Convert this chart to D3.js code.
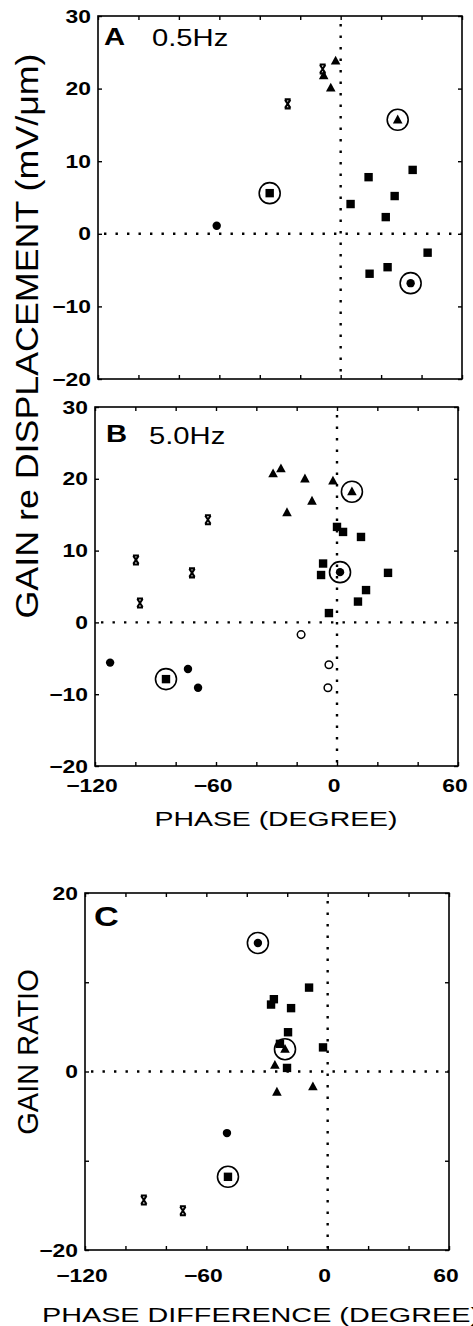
<!DOCTYPE html>
<html><head><meta charset="utf-8">
<script src="https://cdn.jsdelivr.net/npm/d3@7"></script>
<style>body{margin:0;background:#fff}svg{display:block}</style>
</head><body>
<script>
// ---------- data ----------
const xTicks = [-120,-100,-80,-60,-40,-20,0,20,40,60];
const xTickLabels = [-120,-60,0,60];
const yTicksAB = [-20,-10,0,10,20,30];
const yTicksC = [-20,-10,0,10,20];
const yTickLabelsC = [-20,0,20];

// Panel A (0.5 Hz): [phase, gain]
const aSquares   = [[35.6,8.8],[13.8,7.8],[26.7,5.2],[4.9,4.1],[22.3,2.3],[43.0,-2.6],[23.2,-4.6],[14.3,-5.5]];
const aTriangles = [[-2.5,23.8],[-8.4,21.8],[-4.9,20.1]];
const aCrosses   = [[-8.9,22.7],[-26.2,17.9]];
const aCircles   = [[-61.3,1.1]];
const aOpen      = [];
const aRinged    = [[28.2,15.7,"triangle"],[-35.1,5.6,"square"],[34.6,-6.8,"circle"]];

// Panel B (5.0 Hz)
const bSquares   = [[0,13.3],[3.0,12.6],[11.9,11.9],[-6.9,8.2],[-7.9,6.6],[25.3,6.9],[14.4,4.5],[10.4,2.9],[-4.0,1.3]];
const bTriangles = [[-31.7,20.7],[-27.8,21.4],[-15.9,20.0],[-2.0,19.7],[-12.4,16.9],[-24.8,15.3]];
const bCrosses   = [[-64,14.3],[-99.7,8.7],[-71.9,6.9],[-97.7,2.7]];
const bCircles   = [[-112.5,-5.6],[-73.9,-6.5],[-68.9,-9.1]];
const bOpen      = [[-17.8,-1.7],[-4.0,-5.9],[-4.5,-9.1]];
const bRinged    = [[7.4,18.2,"triangle"],[1.5,7.0,"circle"],[-84.8,-7.9,"square"]];

// Panel C (gain ratio vs phase difference)
const cSquares   = [[-9.2,9.4],[-26.6,8.1],[-28.0,7.5],[-18.1,7.1],[-19.6,4.4],[-23.6,3.1],[-2.3,2.7],[-20.1,0.4]];
const cTriangles = [[-26.1,0.7],[-25.1,-2.3],[-7.3,-1.7]];
const cCrosses   = [[-90.9,-14.4],[-71.6,-15.6]];
const cCircles   = [[-49.8,-6.9]];
const cOpen      = [];
const cRinged    = [[-34.5,14.4,"circle"],[-21.1,2.5,"triangle"],[-49.3,-11.8,"square"]];

const W = 473, H = 1326, SX = 1.27;
const svg = d3.select("body").append("svg").attr("width", W).attr("height", H)
  .style("font-family", "'Liberation Sans', Arial, sans-serif");

const panels = [
  {x0:98, x1:462, y0:16, y1:379, ydom:[-20,30], yt:yTicksAB, ylab:yTicksAB,
   letter:"A", sub:"0.5Hz", lx:104, ly:45, sx:152, sy:46, lsize:23,
   sq:aSquares, tri:aTriangles, cr:aCrosses, ci:aCircles, op:aOpen, ring:aRinged, xlab:false},
  {x0:95, x1:458, y0:407, y1:766, ydom:[-20,30], yt:yTicksAB, ylab:yTicksAB,
   letter:"B", sub:"5.0Hz", lx:106, ly:442, sx:149, sy:444, lsize:23,
   sq:bSquares, tri:bTriangles, cr:bCrosses, ci:bCircles, op:bOpen, ring:bRinged, xlab:true, xly:792},
  {x0:85, x1:449, y0:893, y1:1250, ydom:[-20,20], yt:yTicksC, ylab:yTickLabelsC,
   letter:"C", sub:"", lx:94, ly:926, lsize:27,
   sq:cSquares, tri:cTriangles, cr:cCrosses, ci:cCircles, op:cOpen, ring:cRinged, xlab:true, xly:1282}
];

const fmt = v => (v < 0 ? "\u2212" + Math.abs(v) : "" + v);

function marker(g, type, px, py) {
  if (type === "square") {
    g.append("rect").attr("x", px-4.2).attr("y", py-4.2).attr("width", 8.4).attr("height", 8.4).attr("fill", "#000");
  } else if (type === "triangle") {
    g.append("path").attr("d", `M${px},${py-5.2}L${px+4.8},${py+3.6}L${px-4.8},${py+3.6}Z`).attr("fill", "#000");
  } else if (type === "circle") {
    g.append("circle").attr("cx", px).attr("cy", py).attr("r", 4.2).attr("fill", "#000");
  } else if (type === "open") {
    g.append("circle").attr("cx", px).attr("cy", py).attr("r", 3.8).attr("fill", "#fff").attr("stroke", "#000").attr("stroke-width", 1.5);
  } else if (type === "cross") {
    g.append("path").attr("d",
      `M${px-3},${py-4.5}H${px+3}M${px-3},${py+4.5}H${px+3}M${px-2.6},${py-4}L${px+2.6},${py+4}M${px+2.6},${py-4}L${px-2.6},${py+4}`)
      .attr("stroke", "#000").attr("stroke-width", 2.1).attr("fill", "none");
  }
}

panels.forEach(p => {
  const x = d3.scaleLinear().domain([-120, 60]).range([p.x0, p.x1]);
  const y = d3.scaleLinear().domain(p.ydom).range([p.y1, p.y0]);
  const g = svg.append("g");

  // dotted zero lines
  const dots = {stroke:"#000", "stroke-width":2.4, "stroke-dasharray":"2.4 9.1"};
  const hl = g.append("line").attr("x1", x(-120)+6).attr("x2", x(60)).attr("y1", y(0)).attr("y2", y(0));
  const vl = g.append("line").attr("x1", x(0)).attr("x2", x(0)).attr("y1", y(p.ydom[1])+8).attr("y2", y(p.ydom[0]));
  [hl, vl].forEach(l => Object.entries(dots).forEach(([k, v]) => l.attr(k, v)));

  // axes with inward ticks
  const axStyle = a => { a.select(".domain").remove(); a.selectAll("line").attr("stroke", "#000").attr("stroke-width", 1.4); a.selectAll("text").remove(); };
  g.append("g").attr("transform", `translate(0,${p.y1})`).call(d3.axisBottom(x).tickValues(xTicks).tickSize(-4)).call(axStyle);
  g.append("g").attr("transform", `translate(0,${p.y0})`).call(d3.axisTop(x).tickValues(xTicks).tickSize(-4)).call(axStyle);
  g.append("g").attr("transform", `translate(${p.x0},0)`).call(d3.axisLeft(y).tickValues(p.yt).tickSize(-4)).call(axStyle);
  g.append("g").attr("transform", `translate(${p.x1},0)`).call(d3.axisRight(y).tickValues(p.yt).tickSize(-4)).call(axStyle);

  g.append("rect").attr("x", p.x0).attr("y", p.y0).attr("width", p.x1-p.x0).attr("height", p.y1-p.y0)
    .attr("fill", "none").attr("stroke", "#000").attr("stroke-width", 1.6);

  // y tick labels
  p.ylab.forEach(v => {
    g.append("text").attr("transform", `translate(${p.x0-7},${y(v)+6.5}) scale(${SX},1)`)
      .attr("text-anchor", "end").attr("font-size", 18).attr("font-weight", "bold").attr("fill", "#000").text(fmt(v));
  });
  if (p.xlab) {
    xTickLabels.forEach(v => {
      g.append("text").attr("transform", `translate(${x(v)-3},${p.xly}) scale(${SX},1)`)
        .attr("text-anchor", "middle").attr("font-size", 18).attr("font-weight", "bold").attr("fill", "#000").text(fmt(v));
    });
  }

  // panel letter and frequency
  g.append("text").attr("transform", `translate(${p.lx},${p.ly}) scale(${SX},1)`)
    .attr("font-size", p.lsize).attr("font-weight", "bold").text(p.letter);
  if (p.sub) g.append("text").attr("transform", `translate(${p.sx},${p.sy}) scale(${SX},1)`)
    .attr("font-size", 23).text(p.sub);

  // marks
  const m = g.append("g");
  p.sq.forEach(d => marker(m, "square", x(d[0]), y(d[1])));
  p.tri.forEach(d => marker(m, "triangle", x(d[0]), y(d[1])));
  p.cr.forEach(d => marker(m, "cross", x(d[0]), y(d[1])));
  p.ci.forEach(d => marker(m, "circle", x(d[0]), y(d[1])));
  p.op.forEach(d => marker(m, "open", x(d[0]), y(d[1])));
  p.ring.forEach(d => {
    marker(m, d[2], x(d[0]), y(d[1]));
    m.append("circle").attr("cx", x(d[0])).attr("cy", y(d[1])).attr("r", 10.5)
      .attr("fill", "none").attr("stroke", "#000").attr("stroke-width", 1.6);
  });
});

// axis titles
svg.append("text").attr("x", 276).attr("y", 826).attr("text-anchor", "middle")
  .attr("font-size", 21).attr("textLength", 243).attr("lengthAdjust", "spacingAndGlyphs").text("PHASE (DEGREE)");
svg.append("text").attr("x", 42).attr("y", 1322)
  .attr("font-size", 21).attr("textLength", 438).attr("lengthAdjust", "spacingAndGlyphs").text("PHASE DIFFERENCE (DEGREE)");
svg.append("text").attr("transform", "translate(38,336) rotate(-90)").attr("text-anchor", "middle")
  .attr("font-size", 31).attr("textLength", 565).attr("lengthAdjust", "spacingAndGlyphs").text("GAIN re DISPLACEMENT (mV/\u03bcm)");
svg.append("text").attr("transform", "translate(38,1052) rotate(-90)").attr("text-anchor", "middle")
  .attr("font-size", 29).text("GAIN RATIO");
</script>
</body></html>
